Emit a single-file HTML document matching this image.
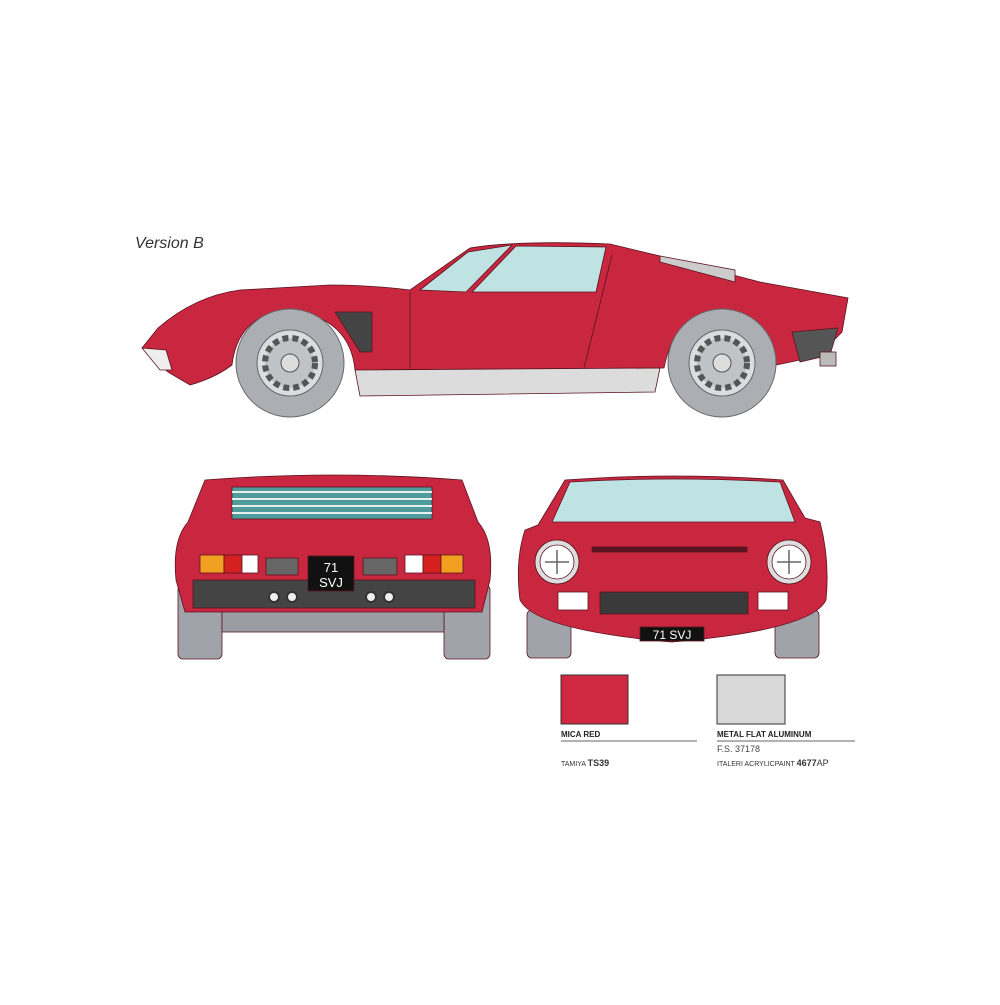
<!DOCTYPE html>
<html><head><style>
body{margin:0;background:#fff;width:1000px;height:1000px;overflow:hidden;font-family:"Liberation Sans",sans-serif}
</style></head><body>
<svg width="1000" height="1000" viewBox="0 0 1000 1000" xmlns="http://www.w3.org/2000/svg">
<rect width="1000" height="1000" fill="#fff"/>
<text x="135" y="248" font-size="16" font-style="italic" fill="#333" font-family="Liberation Sans">Version B</text>

<!-- SIDE VIEW -->
<g stroke="#5a1420" stroke-width="0.8">
<path d="M142,348 L158,328 Q195,296 240,290 L330,285 Q370,285 410,290 L470,248 Q520,240 610,244 L660,256 L760,282 L848,298 L842,332 L822,352 L800,360 L776,365 Q770,318 722,310 Q675,312 664,368 L355,370 Q350,318 290,310 Q238,314 232,365 Q215,378 190,385 L168,372 Z" fill="#c8273f"/>
<path d="M420,290 L468,252 L512,245 L466,292 Z" fill="#bfe3e3"/>
<path d="M472,292 L516,246 L606,247 L596,292 Z" fill="#bfe3e3"/>
<path d="M355,370 L660,368 L655,392 L360,396 Z" fill="#dcdcdc"/>
<path d="M792,332 L838,328 L830,355 L800,362 Z" fill="#555"/>
<path d="M335,312 L372,312 L372,352 L360,352 Z" fill="#444"/>
<path d="M142,348 L166,350 L172,370 L160,370 Z" fill="#eee"/>
<rect x="820" y="352" width="16" height="14" fill="#bbb"/>
<path d="M660,256 L735,270 L735,282 L660,262 Z" fill="#ccc"/>
<line x1="410" y1="292" x2="410" y2="368"/>
<line x1="612" y1="255" x2="584" y2="368"/>
</g>
<g>
<circle cx="290" cy="363" r="54" fill="#abafb4" stroke="#666"/>
<circle cx="290" cy="363" r="33" fill="#dadde0" stroke="#666"/>
<circle cx="290" cy="363" r="25" fill="#bfc3c6" stroke="#555" stroke-width="6" stroke-dasharray="6 4"/>
<circle cx="290" cy="363" r="9" fill="#ddd" stroke="#555"/>
<circle cx="722" cy="363" r="54" fill="#abafb4" stroke="#666"/>
<circle cx="722" cy="363" r="33" fill="#dadde0" stroke="#666"/>
<circle cx="722" cy="363" r="25" fill="#bfc3c6" stroke="#555" stroke-width="6" stroke-dasharray="6 4"/>
<circle cx="722" cy="363" r="9" fill="#ddd" stroke="#555"/>
</g>

<!-- REAR VIEW -->
<g stroke="#5a1420" stroke-width="0.8">
<rect x="178" y="585" width="44" height="74" rx="5" fill="#a0a4aa"/>
<rect x="444" y="585" width="46" height="74" rx="5" fill="#a0a4aa"/>
<rect x="222" y="610" width="222" height="22" fill="#9a9ea4"/>
<path d="M205,480 Q333,470 462,480 L478,522 Q494,540 490,580 L482,612 L185,612 L176,580 Q172,540 188,522 Z" fill="#c8273f"/>
<rect x="232" y="487" width="200" height="32" fill="#4e9c9c"/>
<g stroke="#e6eeee" stroke-width="2"><line x1="232" y1="492" x2="432" y2="492"/><line x1="232" y1="499" x2="432" y2="499"/><line x1="232" y1="506" x2="432" y2="506"/><line x1="232" y1="513" x2="432" y2="513"/></g>
<rect x="193" y="580" width="282" height="28" fill="#444"/>
<rect x="200" y="555" width="24" height="18" fill="#f2a020"/><rect x="224" y="555" width="18" height="18" fill="#d52020"/><rect x="242" y="555" width="16" height="18" fill="#fff"/>
<rect x="405" y="555" width="18" height="18" fill="#fff"/><rect x="423" y="555" width="18" height="18" fill="#d52020"/><rect x="441" y="555" width="22" height="18" fill="#f2a020"/>
<rect x="266" y="558" width="32" height="17" fill="#666"/><rect x="363" y="558" width="34" height="17" fill="#666"/>
<rect x="308" y="556" width="46" height="35" fill="#111"/>
</g>
<text x="331" y="572" font-size="13" fill="#fff" text-anchor="middle">71</text>
<text x="331" y="587" font-size="13" fill="#fff" text-anchor="middle">SVJ</text>
<g fill="#eee" stroke="#333" stroke-width="2"><circle cx="274" cy="597" r="5"/><circle cx="292" cy="597" r="5"/><circle cx="371" cy="597" r="5"/><circle cx="389" cy="597" r="5"/></g>

<!-- FRONT VIEW -->
<g stroke="#5a1420" stroke-width="0.8">
<rect x="527" y="610" width="44" height="48" rx="5" fill="#a0a4aa"/>
<rect x="775" y="610" width="44" height="48" rx="5" fill="#a0a4aa"/>
<path d="M538,525 L565,480 Q672,472 783,480 L805,518 L820,522 Q830,560 826,600 Q812,630 672,642 Q535,630 520,600 Q515,560 525,530 Z" fill="#c8273f"/>
<path d="M552,522 L570,482 Q672,476 780,482 L795,522 Z" fill="#bfe3e3"/>
<rect x="592" y="547" width="155" height="5" fill="#5a1420"/>
<rect x="600" y="592" width="148" height="22" fill="#3a3a3a"/>
<rect x="558" y="592" width="30" height="18" fill="#fff"/><rect x="758" y="592" width="30" height="18" fill="#fff"/>
<circle cx="557" cy="562" r="22" fill="#ddd"/><circle cx="557" cy="562" r="17" fill="#fff"/>
<circle cx="789" cy="562" r="22" fill="#ddd"/><circle cx="789" cy="562" r="17" fill="#fff"/>
<rect x="640" y="627" width="64" height="14" fill="#111"/>
</g>
<g stroke="#666" stroke-width="1.5"><line x1="545" y1="562" x2="569" y2="562"/><line x1="557" y1="550" x2="557" y2="574"/><line x1="777" y1="562" x2="801" y2="562"/><line x1="789" y1="550" x2="789" y2="574"/></g>
<text x="672" y="639" font-size="12" fill="#fff" text-anchor="middle">71 SVJ</text>

<!-- LEGEND -->
<rect x="561" y="675" width="67" height="49" fill="#d02840" stroke="#333"/>
<rect x="717" y="675" width="68" height="49" fill="#d8d8d8" stroke="#333"/>
<line x1="561" y1="741" x2="697" y2="741" stroke="#666"/>
<line x1="717" y1="741" x2="855" y2="741" stroke="#666"/>
<text x="561" y="737" font-size="8" font-weight="bold" fill="#222">MICA RED</text>
<text x="561" y="766" font-size="7" fill="#333">TAMIYA <tspan font-weight="bold" font-size="9">TS39</tspan></text>
<text x="717" y="737" font-size="8" font-weight="bold" fill="#222">METAL FLAT ALUMINUM</text>
<text x="717" y="752" font-size="9" fill="#444">F.S. 37178</text>
<text x="717" y="766" font-size="7" fill="#333">ITALERI ACRYLICPAINT <tspan font-weight="bold" font-size="9">4677</tspan><tspan font-size="9">AP</tspan></text>
</svg>
</body></html>
